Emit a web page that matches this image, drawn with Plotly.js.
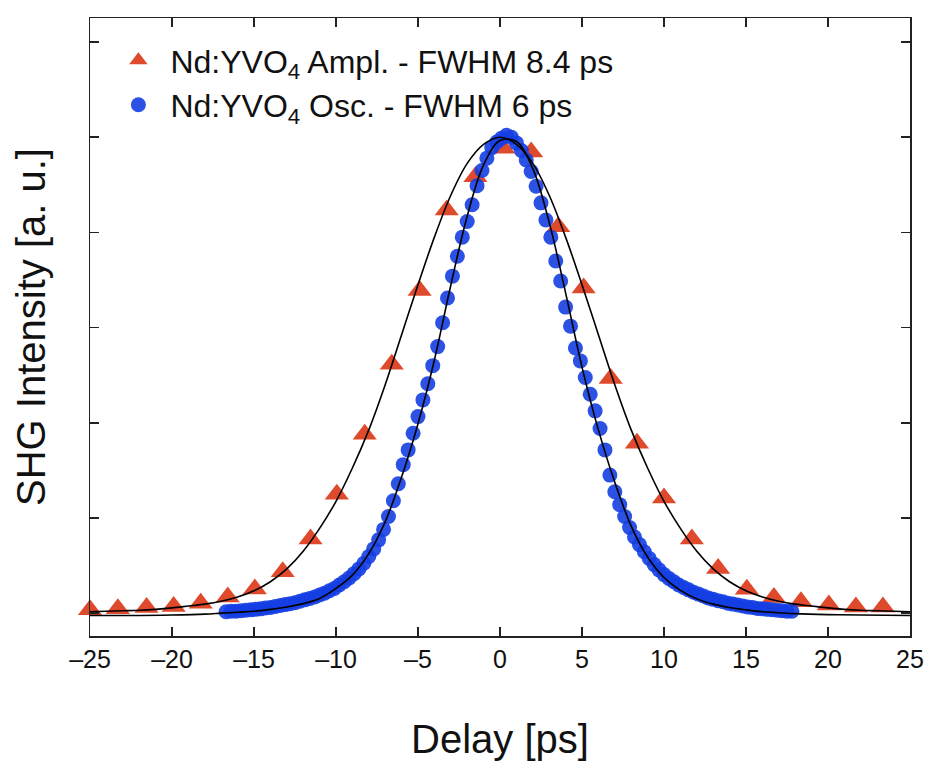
<!DOCTYPE html>
<html>
<head>
<meta charset="utf-8">
<script src="https://cdn.plot.ly/plotly-3.0.1.min.js"></script>
<style>html,body{margin:0;padding:0;background:#fff;}#chart{width:925px;height:761px;}</style>
</head>
<body>
<div id="chart"></div>
<script>
// Nd:YVO4 amplifier autocorrelation (triangles)
var amplDelay = [-25, -23.3, -21.55, -19.9, -18.25, -16.6, -14.95, -13.25, -11.55, -9.95, -8.25, -6.6, -4.9, -3.25, -1.5, 0.2, 1.9, 3.55, 5.1, 6.75, 8.35, 10.0, 11.7, 13.3, 15.05, 16.7, 18.35, 20.05, 21.7, 23.35];
var amplSignal = [0.007, 0.009, 0.012, 0.014, 0.021, 0.034, 0.051, 0.087, 0.156, 0.250, 0.376, 0.523, 0.678, 0.847, 0.917, 0.977, 0.969, 0.812, 0.683, 0.493, 0.357, 0.242, 0.156, 0.094, 0.050, 0.033, 0.024, 0.017, 0.013, 0.013];

// Nd:YVO4 oscillator autocorrelation (circles)
var oscDelay = [-16.7,-16.4,-16.1,-15.8,-15.5,-15.2,-14.9,-14.6,-14.3,-14.0,-13.7,-13.4,-13.1,-12.8,-12.5,-12.2,-11.9,-11.6,-11.3,-11.0,-10.7,-10.4,-10.1,-9.8,-9.5,-9.2,-8.9,-8.6,-8.3,-8.0,-7.7,-7.4,-7.1,-6.8,-6.5,-6.2,-5.9,-5.6,-5.3,-5.0,-4.7,-4.4,-4.1,-3.8,-3.5,-3.2,-2.9,-2.6,-2.3,-2.0,-1.7,-1.4,-1.1,-0.8,-0.5,-0.2,0.1,0.4,0.7,1.0,1.3,1.6,1.9,2.2,2.5,2.8,3.1,3.4,3.7,4.0,4.3,4.6,4.9,5.2,5.5,5.8,6.1,6.4,6.7,7.0,7.3,7.6,7.9,8.2,8.5,8.8,9.1,9.4,9.7,10.0,10.3,10.6,10.9,11.2,11.5,11.8,12.1,12.4,12.7,13.0,13.3,13.6,13.9,14.2,14.5,14.8,15.1,15.4,15.7,16.0,16.3,16.6,16.9,17.2,17.5,17.8];
var oscSignal = [0.003,0.004,0.004,0.005,0.006,0.007,0.008,0.009,0.011,0.012,0.014,0.016,0.018,0.020,0.022,0.025,0.028,0.031,0.034,0.038,0.042,0.047,0.052,0.059,0.066,0.074,0.083,0.093,0.105,0.119,0.135,0.154,0.176,0.203,0.236,0.272,0.312,0.343,0.378,0.413,0.448,0.482,0.520,0.560,0.610,0.662,0.708,0.750,0.790,0.823,0.858,0.898,0.930,0.956,0.978,0.990,0.998,1.004,1.000,0.988,0.972,0.952,0.928,0.897,0.862,0.826,0.790,0.740,0.698,0.643,0.603,0.557,0.530,0.495,0.460,0.425,0.388,0.343,0.290,0.255,0.228,0.203,0.180,0.160,0.144,0.129,0.115,0.102,0.091,0.081,0.073,0.066,0.059,0.054,0.049,0.044,0.040,0.036,0.032,0.029,0.026,0.024,0.021,0.019,0.017,0.015,0.013,0.012,0.010,0.009,0.008,0.007,0.006,0.005,0.004,0.004];

// Fit curves (black lines)
var amplFitDelay = [-25,-24,-23,-22,-21,-20,-19,-18,-17,-16,-15,-14,-13,-12,-11,-10,-9,-8,-7,-6,-5,-4,-3,-2,-1,0,1,2,3,4,5,6,7,8,9,10,11,12,13,14,15,16,17,18,19,20,21,22,23,24,25];
var amplFitSignal = [0.003,0.004,0.005,0.006,0.008,0.011,0.015,0.019,0.025,0.034,0.047,0.066,0.093,0.130,0.178,0.235,0.305,0.385,0.480,0.585,0.690,0.790,0.878,0.945,0.985,1.000,0.985,0.945,0.878,0.790,0.690,0.585,0.480,0.385,0.305,0.235,0.178,0.130,0.093,0.066,0.047,0.034,0.025,0.019,0.015,0.011,0.008,0.006,0.005,0.004,0.003];
var oscFitDelay = [-25,-22,-20,-18,-17,-16,-15,-14,-13,-12,-11,-10,-9,-8,-7,-6,-5,-4,-3,-2,-1,0,1,2,3,4,5,6,7,8,9,10,11,12,13,14,15,16,17,18,20,22,25];
var oscFitSignal = [-0.005,-0.005,-0.004,-0.002,0.000,0.002,0.004,0.008,0.013,0.020,0.031,0.052,0.080,0.125,0.192,0.286,0.398,0.532,0.689,0.834,0.942,0.993,0.991,0.934,0.821,0.673,0.517,0.385,0.275,0.183,0.118,0.075,0.048,0.030,0.019,0.012,0.007,0.003,0.001,-0.001,-0.003,-0.004,-0.005];

var xTicks = [-25,-20,-15,-10,-5,0,5,10,15,20,25];
var yTicks = [0,0.2,0.4,0.6,0.8,1.0,1.2];
var amplName = 'Nd:YVO<sub>4</sub> Ampl. - FWHM 8.4 ps';
var oscName = 'Nd:YVO<sub>4</sub> Osc. - FWHM 6 ps';

var font = 'Liberation Sans, Arial, Helvetica, sans-serif';

var traces = [
  {x: amplDelay, y: amplSignal, type: 'scatter', mode: 'markers', name: amplName,
   cliponaxis: false,
   marker: {symbol: 'triangle-up', size: 21, color: '#e04a2c', line: {width: 0}}},
  {x: oscDelay, y: oscSignal, type: 'scatter', mode: 'markers', name: oscName,
   cliponaxis: false,
   marker: {symbol: 'circle', size: 15, color: 'rgba(20,62,226,0.9)', line: {width: 0}}},
  {x: amplFitDelay, y: amplFitSignal, type: 'scatter', mode: 'lines', showlegend: false,
   line: {color: '#000', width: 1.6, shape: 'spline', smoothing: 1}},
  {x: oscFitDelay, y: oscFitSignal, type: 'scatter', mode: 'lines', showlegend: false,
   line: {color: '#000', width: 1.6, shape: 'spline', smoothing: 1}}
];

var layout = {
  width: 925, height: 761,
  margin: {l: 90, r: 15, t: 18, b: 125},
  paper_bgcolor: '#fff', plot_bgcolor: '#fff',
  font: {family: font, color: '#111'},
  showlegend: true,
  legend: {x: 0.02, y: 0.976, xanchor: 'left', yanchor: 'top',
           bgcolor: 'rgba(0,0,0,0)', font: {size: 32, family: font, color: '#111'},
           tracegroupgap: 0, itemwidth: 54},
  xaxis: {range: [-25, 25], tickvals: xTicks, ticktext: xTicks.map(function(v){return v < 0 ? '\u2013' + Math.abs(v) : String(v);}),
          ticks: 'inside', ticklen: 9, tickwidth: 1.5, tickcolor: '#222',
          showline: true, linecolor: '#222', linewidth: 1.5, mirror: 'ticks',
          showgrid: false, zeroline: false,
          tickfont: {size: 25, family: font, color: '#111'},
          title: {text: 'Delay [ps]', font: {size: 40, family: font, color: '#111'}, standoff: 54}},
  yaxis: {range: [-0.048, 1.2504], tickvals: yTicks, showticklabels: false,
          ticks: 'inside', ticklen: 9, tickwidth: 1.5, tickcolor: '#222',
          showline: true, linecolor: '#222', linewidth: 1.5, mirror: 'ticks',
          showgrid: false, zeroline: false,
          title: {text: 'SHG Intensity [a. u.]', font: {size: 40, family: font, color: '#111'}, standoff: 30}}
};

Plotly.newPlot('chart', traces, layout, {displayModeBar: false, staticPlot: true});
</script>
</body>
</html>
